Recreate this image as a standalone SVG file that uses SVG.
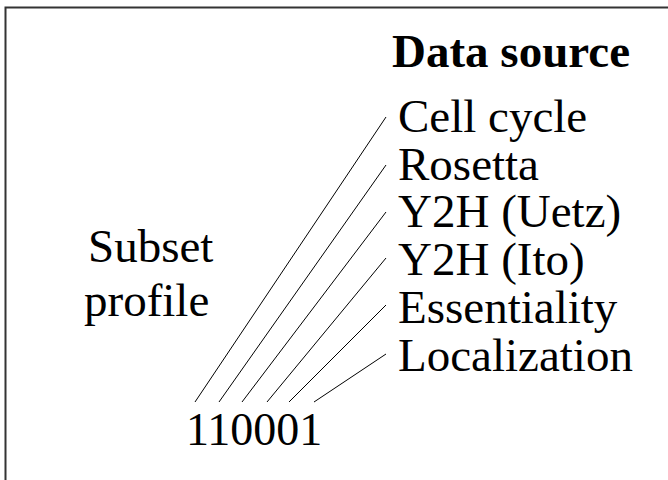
<svg xmlns="http://www.w3.org/2000/svg" width="668" height="480" viewBox="0 0 668 480">
<style>
  text { font-family: "Liberation Serif", "Times New Roman", serif; font-size: 47px; fill: #000; }
  .title { font-weight: bold; }
  .conn line { stroke: #000; stroke-width: 1; }
</style>
<rect x="0" y="0" width="668" height="480" fill="#fff"/>
<path d="M5.5,480 V7.5 H668" fill="none" stroke="#333" stroke-width="2"/>
<g id="title"><text class="title" x="392" y="67">Data source</text></g>
<g id="subset-profile">
  <text x="88" y="262">Subset</text>
  <text x="84" y="316">profile</text>
</g>
<g id="profile-value"><text x="186" y="445" style="font-size:46px">110001</text></g>
<g id="src-cell-cycle"><text x="398" y="132">Cell cycle</text></g>
<g id="src-rosetta"><text x="398" y="180">Rosetta</text></g>
<g id="src-uetz"><text x="398" y="227">Y2H (Uetz)</text></g>
<g id="src-ito"><text x="398" y="275">Y2H (Ito)</text></g>
<g id="src-essentiality"><text x="398" y="323">Essentiality</text></g>
<g id="src-localization"><text x="398" y="371">Localization</text></g>
<g class="conn" id="connectors">
  <line x1="195" y1="402" x2="386" y2="117"/>
  <line x1="219" y1="402" x2="386" y2="165"/>
  <line x1="242" y1="402" x2="386" y2="212"/>
  <line x1="267" y1="402" x2="386" y2="258"/>
  <line x1="289" y1="402" x2="386" y2="305"/>
  <line x1="314" y1="402" x2="386" y2="354"/>
</g>
</svg>
